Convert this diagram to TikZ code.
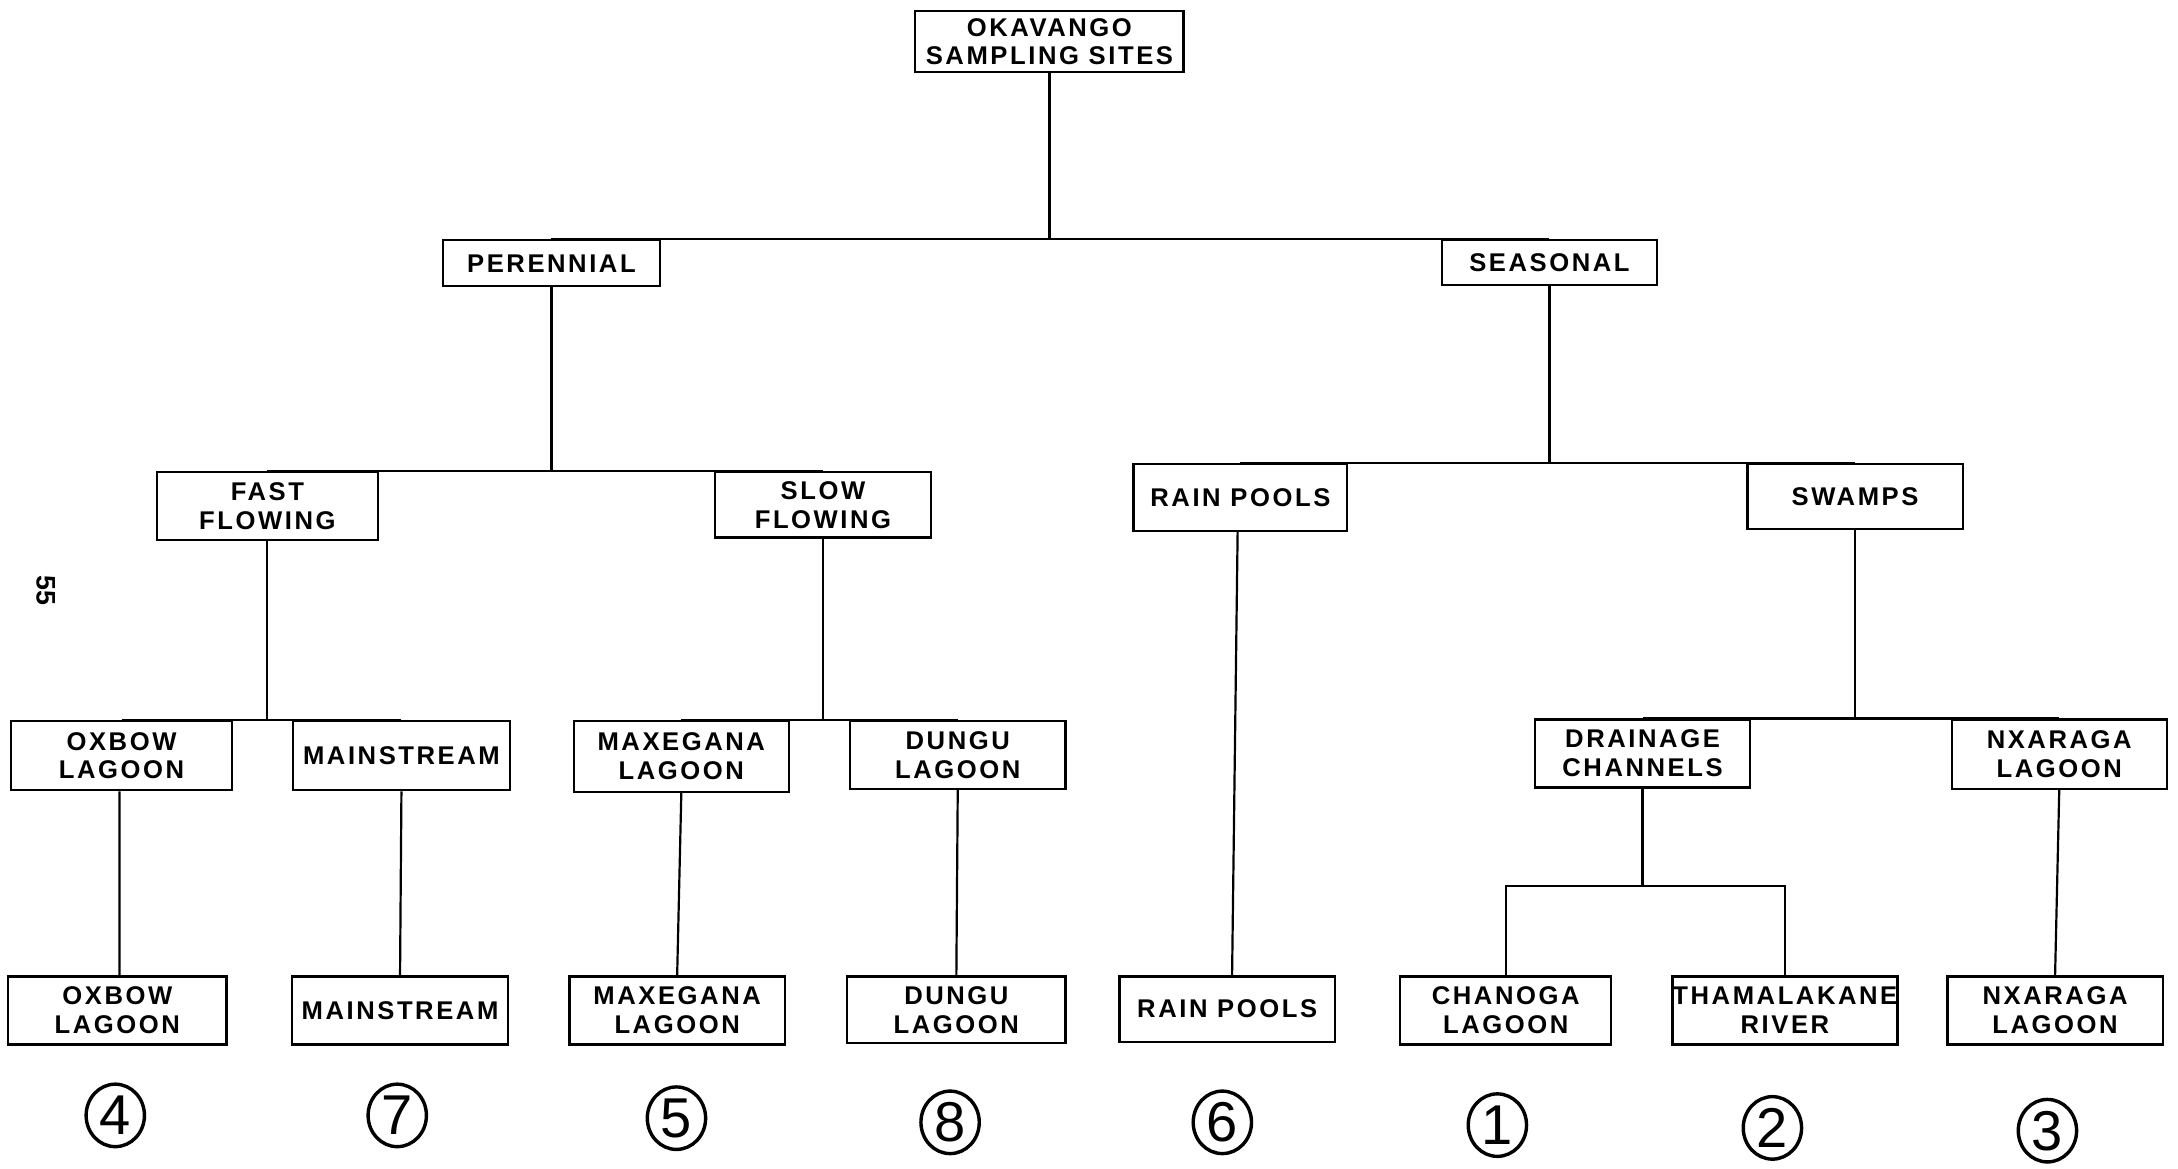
\documentclass[tikz,border=0pt]{standalone}
\usepackage{fontspec}
\setmainfont{Liberation Sans}
\newfontfamily\boxfont[LetterSpace=10]{Liberation Sans}
\usetikzlibrary{shapes.geometric}
\begin{document}
\begin{tikzpicture}[x=0.02cm,y=-0.02cm,
  box/.style={draw, line width=0.9pt, align=center, inner sep=0pt,
    font=\boxfont\bfseries\fontsize{10.5}{11.8}\selectfont},
  sz/.style 2 args={minimum width=#1*0.02cm, minimum height=#2*0.02cm},
  conn/.style={line width=0.9pt},
  num/.style={draw, ellipse, line width=1.4pt, inner sep=0pt,
    minimum width=0.84cm, minimum height=0.9cm,
    font=\fontsize{23}{23}\selectfont}]
\useasboundingbox (0,0) rectangle (1568,841);
% level 0
\node[box, sz={193}{44}] (root) at (755.5,30) {OKAVANGO\\SAMPLING SITES};
% level 1
\node[box, sz={156}{33}] (per) at (397,189.5) {PERENNIAL};
\node[box, sz={155}{32}] (sea) at (1115.5,189) {SEASONAL};
% level 2
\node[box, sz={159}{49}] (fast) at (192.5,364.5) {FAST\\FLOWING};
\node[box, sz={155}{47}] (slow) at (592.5,363.5) {SLOW\\FLOWING};
\node[box, sz={154}{48}] (rain) at (893,358) {RAIN POOLS};
\node[box, sz={155}{47}] (swamps) at (1335.5,357.5) {SWAMPS};
% level 3
\node[box, sz={159}{50}] (oxbow) at (87.5,544) {OXBOW\\LAGOON};
\node[box, sz={156}{50}] (mains) at (289,544) {MAINSTREAM};
\node[box, sz={155}{51}] (maxe) at (490.5,544.5) {MAXEGANA\\LAGOON};
\node[box, sz={155}{49}] (dungu) at (689.5,543.5) {DUNGU\\LAGOON};
\node[box, sz={155}{49}] (drain) at (1182.5,542.5) {DRAINAGE\\CHANNELS};
\node[box, sz={155}{50}] (nxa) at (1482.5,543) {NXARAGA\\LAGOON};
% level 4
\node[box, sz={157}{49}] (oxbow2) at (84.5,727.5) {OXBOW\\LAGOON};
\node[box, sz={156}{49}] (mains2) at (288,727.5) {MAINSTREAM};
\node[box, sz={155}{49}] (maxe2) at (487.5,727.5) {MAXEGANA\\LAGOON};
\node[box, sz={157}{48}] (dungu2) at (688.5,727) {DUNGU\\LAGOON};
\node[box, sz={155}{47}] (rain2) at (883.5,726.5) {RAIN POOLS};
\node[box, sz={152}{49}] (chan) at (1084,727.5) {CHANOGA\\LAGOON};
\node[box, sz={162}{49}] (tham) at (1285,727.5) {THAMALAKANE\\RIVER};
\node[box, sz={155}{49}] (nxa2) at (1479.5,727.5) {NXARAGA\\LAGOON};
% connectors
\draw[conn] (root.south) -- (root.south |- per.north);
\draw[conn] (per.north) -- (sea.north);
\draw[conn] (per.south) -- (per.south |- fast.north);
\draw[conn] (fast.north) -- (slow.north);
\draw[conn] (sea.south) -- (sea.south |- rain.north);
\draw[conn] (rain.north) -- (swamps.north);
\draw[conn] (fast.south) -- (fast.south |- oxbow.north);
\draw[conn] (oxbow.north) -- (mains.north);
\draw[conn] (slow.south) -- (slow.south |- maxe.north);
\draw[conn] (maxe.north) -- (dungu.north);
\draw[conn] (swamps.south) -- (swamps.south |- drain.north);
\draw[conn] (drain.north) -- (nxa.north);
\draw[conn] ([xshift=-0.03cm]oxbow.south) -- ([xshift=0.03cm]oxbow2.north);
\draw[conn] (mains.south) -- (mains2.north);
\draw[conn] (maxe.south) -- (maxe2.north);
\draw[conn] (dungu.south) -- (dungu2.north);
\draw[conn] ([xshift=-0.04cm]rain.south) -- ([xshift=0.07cm]rain2.north);
\draw[conn] (nxa.south) -- (nxa2.north);
\draw[conn] (drain.south) -- ++(0,70) coordinate (dj);
\draw[conn] (chan.north) |- (dj) -| (tham.north);
% site numbers
\node[num] (n4) at (83,803) {4};
\node[num] (n7) at (286,803) {7};
\node[num] (n5) at (487,805) {5};
\node[num] (n8) at (684,808) {8};
\node[num] (n6) at (880,808) {6};
\node[num] (n1) at (1078,810) {1};
\node[num] (n2) at (1276,812) {2};
\node[num] (n3) at (1474,814) {3};
% page number
\node[font=\bfseries\fontsize{11}{12}\selectfont, rotate=-90] (pg) at (33,425) {55};
\end{tikzpicture}
\end{document}
